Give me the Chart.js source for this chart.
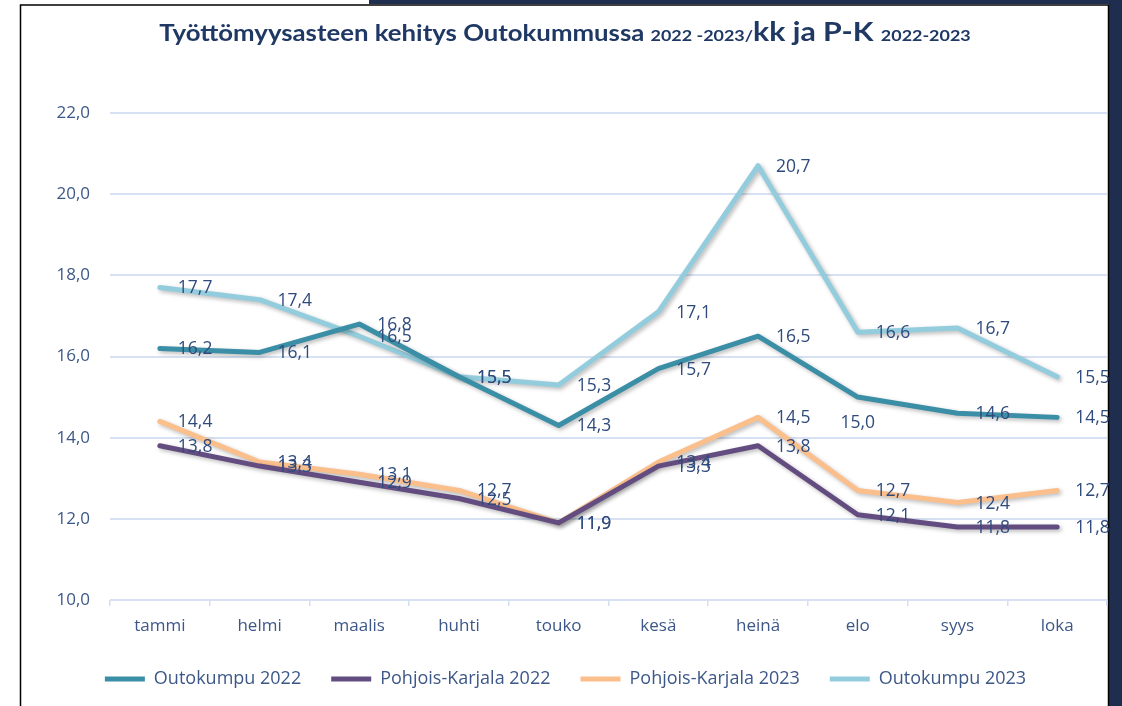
<!DOCTYPE html>
<html>
<head>
<meta charset="utf-8">
<script src="https://cdn.jsdelivr.net/npm/chart.js@4.4.1/dist/chart.umd.min.js"></script>
<style>
  html, body { margin: 0; padding: 0; background: #fff; }
</style>
</head>
<body>
<canvas id="chart" width="1122" height="706"></canvas>
<script>
// data
const months = ["tammi", "helmi", "maalis", "huhti", "touko", "kesä", "heinä", "elo", "syys", "loka"];
const outokumpu2022 = [16.2, 16.1, 16.8, 15.5, 14.3, 15.7, 16.5, 15.0, 14.6, 14.5];
const pohjoisKarjala2022 = [13.8, 13.3, 12.9, 12.5, 11.9, 13.3, 13.8, 12.1, 11.8, 11.8];
const pohjoisKarjala2023 = [14.4, 13.4, 13.1, 12.7, 11.9, 13.4, 14.5, 12.7, 12.4, 12.7];
const outokumpu2023 = [17.7, 17.4, 16.5, 15.5, 15.3, 17.1, 20.7, 16.6, 16.7, 15.5];
const seriesNames = ["Outokumpu 2022", "Pohjois-Karjala 2022", "Pohjois-Karjala 2023", "Outokumpu 2023"];
const seriesColors = ["#3a8ea5", "#634c80", "#fbbf8c", "#93cddd"];
const yMin = 10, yMax = 22, yStep = 2;

const fmt = v => v.toFixed(1).replace(".", ",");
const textColor = "#3d5888";
const labelColor = "#2f4a7c";

// frame around the slide
const framePlugin = {
    id: "frame",
    beforeDraw(chart) {
        const ctx = chart.ctx;
        ctx.save();
        ctx.fillStyle = "#fff";
        ctx.fillRect(0, 0, chart.width, chart.height);
        ctx.fillStyle = "#1f2e4e";
        ctx.fillRect(369, 0, chart.width - 369, 4);
        ctx.fillRect(1109, 0, chart.width - 1109, chart.height);
        ctx.strokeStyle = "#000";
        ctx.lineWidth = 1.5;
        ctx.beginPath();
        ctx.moveTo(20.5, chart.height);
        ctx.lineTo(20.5, 5);
        ctx.lineTo(1108.5, 5);
        ctx.lineTo(1108.5, chart.height);
        ctx.stroke();
        ctx.restore();
    }
};

// title with mixed sizes, stretched a bit to look like the wide original font
const titlePlugin = {
    id: "mixedTitle",
    afterDraw(chart) {
        const ctx = chart.ctx;
        const parts = [
            { t: "Työttömyysasteen kehitys Outokummussa ", f: "bold 23px Lato" },
            { t: "2022 -2023/", f: "bold 16px Lato" },
            { t: "kk ja P-K ", f: "bold 27px Lato" },
            { t: "2022-2023", f: "bold 16px Lato" }
        ];
        const stretch = 1.12;
        ctx.save();
        let total = 0;
        parts.forEach(p => { ctx.font = p.f; p.w = ctx.measureText(p.t).width; total += p.w; });
        ctx.translate(565 - total * stretch / 2, 41);
        ctx.scale(stretch, 1);
        ctx.fillStyle = "#1f3864";
        ctx.textBaseline = "alphabetic";
        let x = 0;
        parts.forEach(p => {
            ctx.font = p.f;
            ctx.fillText(p.t, x, 0);
            x += p.w;
        });
        ctx.restore();
    }
};

// soft shadow under the lines
const shadowPlugin = {
    id: "lineShadow",
    beforeDatasetDraw(chart) {
        const ctx = chart.ctx;
        ctx.save();
        ctx.shadowColor = "rgba(0,0,0,0.28)";
        ctx.shadowBlur = 4;
        ctx.shadowOffsetX = 2;
        ctx.shadowOffsetY = 2;
    },
    afterDatasetDraw(chart) {
        chart.ctx.restore();
    }
};

// value labels next to the points
const labelPlugin = {
    id: "valueLabels",
    afterDatasetsDraw(chart) {
        const ctx = chart.ctx;
        ctx.save();
        ctx.font = '17.5px "Open Sans"';
        ctx.fillStyle = labelColor;
        ctx.textBaseline = "middle";
        chart.data.datasets.forEach((ds, di) => {
            const meta = chart.getDatasetMeta(di);
            meta.data.forEach((pt, i) => {
                const txt = fmt(ds.data[i]);
                if (di === 0 && i === 7) {
                    // this one sits under its point
                    ctx.textAlign = "center";
                    ctx.fillText(txt, pt.x, pt.y + 26);
                } else {
                    ctx.textAlign = "left";
                    ctx.fillText(txt, pt.x + 18, pt.y + 1);
                }
            });
        });
        ctx.restore();
    }
};

const allSeries = [outokumpu2022, pohjoisKarjala2022, pohjoisKarjala2023, outokumpu2023];

new Chart(document.getElementById("chart"), {
    type: "line",
    data: {
        labels: months,
        datasets: allSeries.map((values, i) => ({
            label: seriesNames[i],
            data: values,
            borderColor: seriesColors[i],
            backgroundColor: seriesColors[i],
            borderWidth: 5,
            borderCapStyle: "round",
            borderJoinStyle: "round",
            pointRadius: 0,
            tension: 0,
            fill: false
        }))
    },
    options: {
        responsive: false,
        animation: false,
        layout: { padding: { top: 113, right: 15, bottom: 8, left: 24 } },
        plugins: {
            title: { display: false },
            tooltip: { enabled: false },
            legend: {
                position: "bottom",
                labels: {
                    usePointStyle: true,
                    pointStyle: "line",
                    pointStyleWidth: 40,
                    padding: 30,
                    color: textColor,
                    font: { family: "Open Sans", size: 18 }
                }
            }
        },
        scales: {
            x: {
                offset: true,
                grid: {
                    offset: true,
                    drawOnChartArea: false,
                    color: "#d3def1",
                    lineWidth: 1.5,
                    tickLength: 6
                },
                border: { display: false },
                ticks: {
                    color: textColor,
                    padding: 10,
                    font: { family: "Open Sans", size: 17 }
                },
                afterFit(scale) { scale.height = 40; }
            },
            y: {
                min: yMin,
                max: yMax,
                grid: { color: "#d6e1f3", lineWidth: 2, drawTicks: false },
                border: { display: false },
                ticks: {
                    stepSize: yStep,
                    padding: 20,
                    color: textColor,
                    font: { family: "Open Sans", size: 17 },
                    callback: v => fmt(v)
                },
                afterFit(scale) { scale.width = 86; }
            }
        }
    },
    plugins: [framePlugin, shadowPlugin, labelPlugin, titlePlugin]
});
</script>
</body>
</html>
